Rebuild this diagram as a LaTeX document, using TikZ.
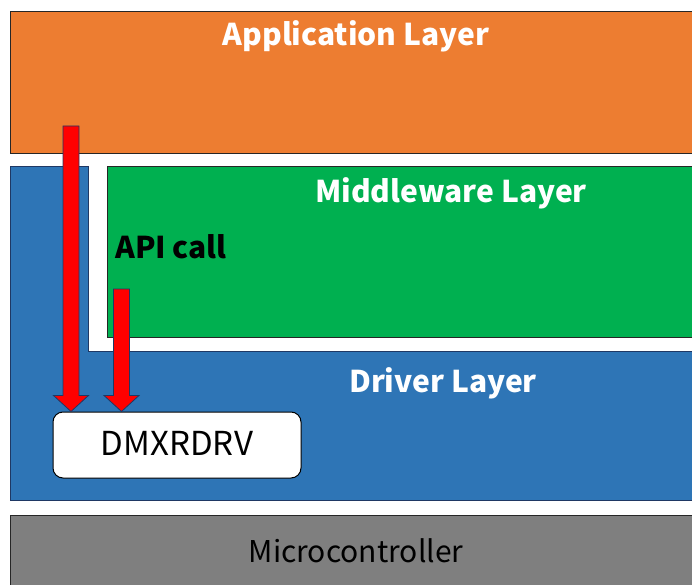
\documentclass[tikz,border=0pt]{standalone}
\usepackage{fontspec}
\setmainfont{Noto Sans CJK JP}
\usetikzlibrary{positioning, calc}

\definecolor{apporange}{HTML}{ED7D31}
\definecolor{drvblue}{HTML}{2E75B6}
\definecolor{midgreen}{HTML}{00B050}
\definecolor{mcugray}{HTML}{7F7F7F}
\definecolor{edgeblue}{HTML}{1F3864}

\tikzset{
  layer/.style={draw=black!85, line width=1pt},
  title/.style={text=white, anchor=base, font=\bfseries\fontsize{30}{34}\selectfont},
  block/.style={fill=red, draw=edgeblue, line width=0.8pt},
}

% red block arrow from #1 down to #2
\newcommand{\blockarrow}[2]{%
  \filldraw[block] let \p1=(#1), \p2=(#2) in
    (\x1-8pt,\y1) -- (\x1+8pt,\y1) -- (\x1+8pt,\y2+16pt) -- (\x1+17.5pt,\y2+16pt)
    -- (\x1,\y2) -- (\x1-17.5pt,\y2+16pt) -- (\x1-8pt,\y2+16pt) -- cycle;}

\begin{document}
\begin{tikzpicture}[x=1pt, y=-1pt]
  \useasboundingbox (0,0) rectangle (692,585);
  \clip (0,0) rectangle (692,585);

  % layers
  \filldraw[layer, fill=apporange] (10,12) rectangle (700,154);
  \filldraw[layer, fill=drvblue, draw=edgeblue]
    (10,167) -- (88,167) -- (88,351) -- (700,351) -- (700,500) -- (10,500) -- cycle;
  \filldraw[layer, fill=midgreen] (107,167) rectangle (700,337);
  \filldraw[layer, fill=mcugray] (10,515) rectangle (700,600);

  \node[title] (app) at (356,46) {Application Layer};
  \node[title] (mid) at (451,203) {Middleware Layer};
  \node[title] (drv) at (443,392) {Driver Layer};
  \node[font=\bfseries\fontsize{30}{34}\selectfont, anchor=base west, inner sep=0pt] (api) at (115,258) {API call};
  \node[font=\fontsize{30}{34}\selectfont, anchor=base] (mcu) at (356,562) {Microcontroller};

  \node[draw=black, fill=white, line width=1pt, rounded corners=10pt,
        minimum width=248pt, minimum height=66pt] (dmx) at (177,445) {};
  \node[font=\fontsize{33}{36}\selectfont, anchor=base] (dmxtext) at (177,455) {DMXRDRV};

  \coordinate (s1) at (71,126);
  \coordinate (s2) at (121.5,289);
  \blockarrow{s1}{s1 |- dmx.north}
  \blockarrow{s2}{s2 |- dmx.north}
\end{tikzpicture}
\end{document}
